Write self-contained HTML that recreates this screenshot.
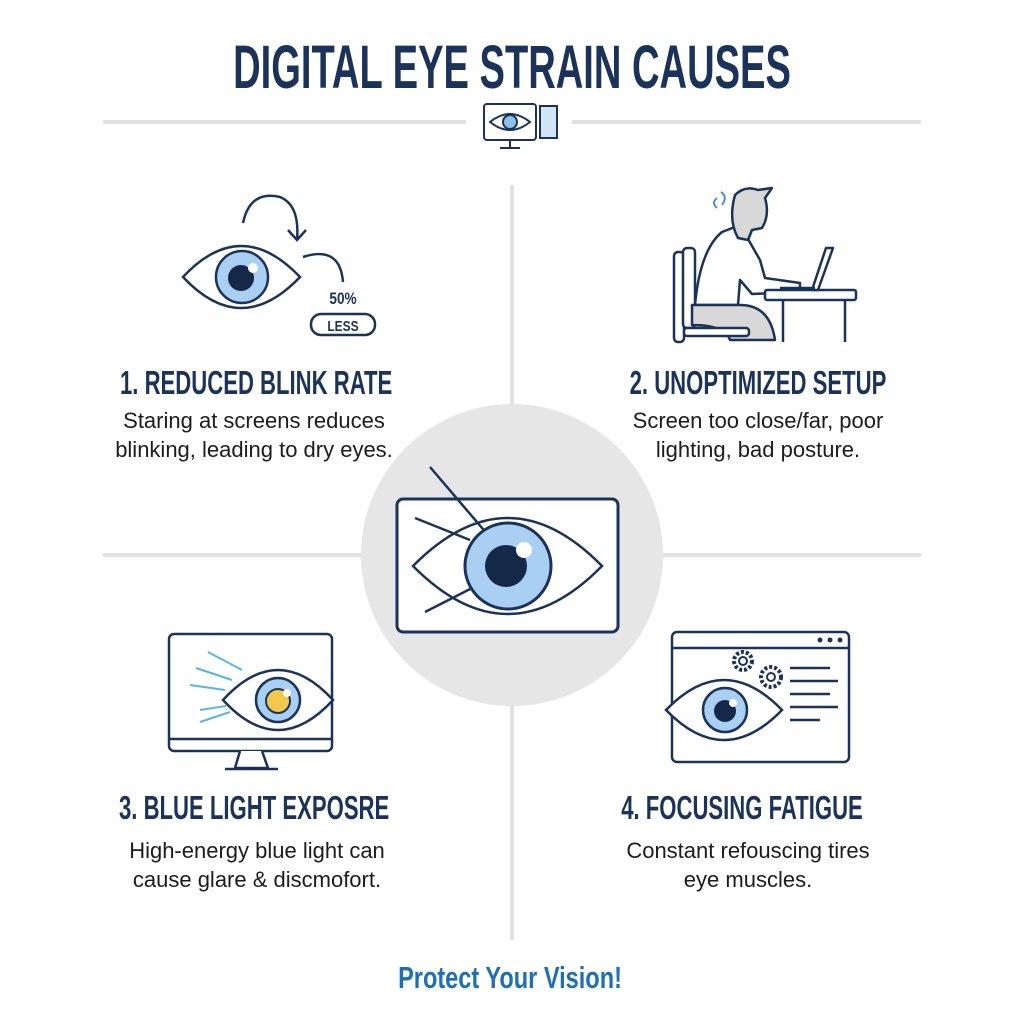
<!DOCTYPE html>
<html><head><meta charset="utf-8"><style>
body{margin:0;width:1024px;height:1024px;background:#fff;position:relative;overflow:hidden;font-family:"Liberation Sans",sans-serif;color:#1b2b48}
.t{position:absolute;text-align:center;white-space:nowrap}
.h{font-family:"Liberation Sans Narrow","Liberation Sans",sans-serif;font-weight:bold;color:#1b3358;transform:scaleX(.67);transform-origin:center}
.b{font-size:22px;line-height:29px;color:#1c1c1c}
</style></head><body>
<div class="t h" style="left:0;width:1024px;top:32px;font-size:61px;transform:scaleX(.625)">DIGITAL EYE STRAIN CAUSES</div>
<svg width="1024" height="1024" style="position:absolute;left:0;top:0">
<g stroke="#e2e2e2" stroke-width="4"><line x1="103" y1="122" x2="466" y2="122"/><line x1="572" y1="122" x2="921" y2="122"/>
<line x1="512" y1="185" x2="512" y2="940"/><line x1="103" y1="555" x2="921" y2="555"/></g>
<circle cx="512" cy="555" r="151" fill="#e6e6e6"/>
<g stroke="#1b3358" stroke-width="2" fill="none"><rect x="484" y="104" width="52" height="36" rx="3" fill="#fff"/><path d="M490 122 Q510 106 530 122 Q510 138 490 122Z"/><circle cx="510" cy="122" r="7" fill="#8fc0ea"/><line x1="510" y1="140" x2="510" y2="147"/><line x1="500" y1="148" x2="520" y2="148"/><rect x="540" y="106" width="17" height="32" fill="#cfe4f6"/></g>
<rect x="397" y="499" width="221" height="133" rx="6" fill="#fff" stroke="#1b3358" stroke-width="3"/>
<g stroke="#1b3358" stroke-width="2.5" fill="none"><path d="M413 566 Q508 470 602 566 Q508 662 413 566Z"/><line x1="430" y1="467" x2="488" y2="535"/><line x1="415" y1="518" x2="470" y2="540"/><line x1="425" y1="612" x2="478" y2="585"/></g>
<circle cx="508" cy="566" r="43" fill="#a9d0f2" stroke="#1b3358" stroke-width="3"/><circle cx="506" cy="566" r="21" fill="#14284a"/><circle cx="524" cy="550" r="8" fill="#fff"/>
<g stroke="#1b3358" stroke-width="2.5" fill="none"><path d="M183 277 Q241 215 300 277 Q241 339 183 277Z"/><path d="M243 223 Q250 190 280 197 Q300 205 297 240"/><path d="M288 230 L297 240 L306 230"/><path d="M303 257 Q340 245 343 282"/><rect x="311" y="314" width="64" height="21" rx="10"/></g>
<circle cx="242" cy="277" r="26" fill="#a9d0f2" stroke="#1b3358" stroke-width="2.5"/><circle cx="241" cy="278" r="13" fill="#14284a"/><circle cx="253" cy="268" r="5" fill="#fff"/>
<text x="343" y="304" text-anchor="middle" font-weight="bold" font-size="17" fill="#1b3358" transform="translate(343 0) scale(.8 1) translate(-343 0)">50%</text>
<text x="343" y="331" text-anchor="middle" font-weight="bold" font-size="15" fill="#1b3358" transform="translate(343 0) scale(.8 1) translate(-343 0)">LESS</text>
<g stroke="#1b3358" stroke-width="2.5" fill="#fff" stroke-linejoin="round"><rect x="674" y="252" width="10" height="90" rx="4"/><rect x="683" y="248" width="12" height="80" rx="4"/>
<path d="M695 305 Q700 250 722 232 L740 225 L760 260 L765 278 L800 283 L800 292 L752 294 L740 280 L738 305Z" />
<path d="M692 305 L740 305 Q770 305 775 340 L730 340 Q725 325 692 325Z" fill="#d8d8d8"/>
<rect x="684" y="328" width="65" height="8" rx="3"/>
<path d="M735 195 Q745 185 758 190 L772 188 L765 198 Q770 215 762 228 L752 230 L748 240 L738 238 Q728 220 735 195Z" fill="#d8d8d8"/>
<rect x="765" y="290" width="91" height="10" rx="2"/><line x1="783" y1="300" x2="783" y2="342"/><line x1="845" y1="300" x2="845" y2="342"/>
<path d="M812 290 L826 248 L833 248 L818 290Z"/><line x1="780" y1="288" x2="815" y2="288"/></g>
<path d="M717 198 q-6 5 0 10 M722 205 q6 -8 -1 -13" stroke="#4a90d8" stroke-width="2" fill="none"/>
<g stroke="#1b3358" stroke-width="2.5" fill="#fff"><rect x="169" y="634" width="163" height="117" rx="5"/><line x1="169" y1="739" x2="332" y2="739"/><path d="M240 751 L235 768 L268 768 L262 751"/><line x1="225" y1="769" x2="278" y2="769"/>
<path d="M223 700 Q278 640 333 700 Q278 760 223 700Z"/></g>
<g stroke="#5ab4e8" stroke-width="2"><line x1="208" y1="652" x2="242" y2="670"/><line x1="196" y1="668" x2="232" y2="680"/><line x1="190" y1="685" x2="225" y2="690"/><line x1="200" y1="710" x2="226" y2="706"/><line x1="200" y1="722" x2="230" y2="712"/></g>
<circle cx="278" cy="700" r="22" fill="#a9d0f2" stroke="#1b3358" stroke-width="2.5"/><circle cx="278" cy="701" r="12" fill="#f2c94c" stroke="#1b3358" stroke-width="2"/><circle cx="287" cy="693" r="4" fill="#fff"/>
<g stroke="#1b3358" stroke-width="2.5" fill="#fff"><rect x="672" y="632" width="177" height="130" rx="5"/><line x1="672" y1="648" x2="849" y2="648"/></g>
<g fill="#1b3358"><circle cx="820" cy="640" r="2.5"/><circle cx="830" cy="640" r="2.5"/><circle cx="840" cy="640" r="2.5"/></g>
<g stroke="#1b3358" stroke-width="2.5"><line x1="790" y1="668" x2="830" y2="668"/><line x1="790" y1="681" x2="838" y2="681"/><line x1="790" y1="694" x2="830" y2="694"/><line x1="790" y1="707" x2="838" y2="707"/><line x1="790" y1="720" x2="820" y2="720"/></g>
<g stroke="#1b3358" stroke-width="2" fill="#fff"><circle cx="743" cy="661" r="9" stroke-dasharray="3 2" stroke-width="4"/><circle cx="743" cy="661" r="4"/><circle cx="771" cy="677" r="10" stroke-dasharray="3 2" stroke-width="4"/><circle cx="771" cy="677" r="4"/></g>
<path d="M666 710 Q724 650 782 710 Q724 770 666 710Z" fill="#fff" stroke="#1b3358" stroke-width="2.5"/>
<circle cx="725" cy="710" r="22" fill="#a9d0f2" stroke="#1b3358" stroke-width="2.5"/><circle cx="725" cy="711" r="11" fill="#14284a"/><circle cx="733" cy="703" r="4" fill="#fff"/>
</svg>
<div class="t h" style="left:54px;width:400px;top:364px;font-size:33px">1. REDUCED BLINK RATE</div>
<div class="t b" style="left:54px;width:400px;top:406px">Staring at screens reduces<br>blinking, leading to dry eyes.</div>
<div class="t h" style="left:558px;width:400px;top:364px;font-size:33px">2. UNOPTIMIZED SETUP</div>
<div class="t b" style="left:558px;width:400px;top:406px">Screen too close/far, poor<br>lighting, bad posture.</div>
<div class="t h" style="left:53px;width:400px;top:789px;font-size:33px">3. BLUE LIGHT EXPOSRE</div>
<div class="t b" style="left:57px;width:400px;top:836px">High-energy blue light can<br>cause glare &amp; discmofort.</div>
<div class="t h" style="left:542px;width:400px;top:789px;font-size:33px">4. FOCUSING FATIGUE</div>
<div class="t b" style="left:548px;width:400px;top:836px">Constant refouscing tires<br>eye muscles.</div>
<div class="t h" style="left:0;width:1020px;top:960px;font-size:31px;color:#1f6fb5;transform:scaleX(.76)">Protect Your Vision!</div>
</body></html>
